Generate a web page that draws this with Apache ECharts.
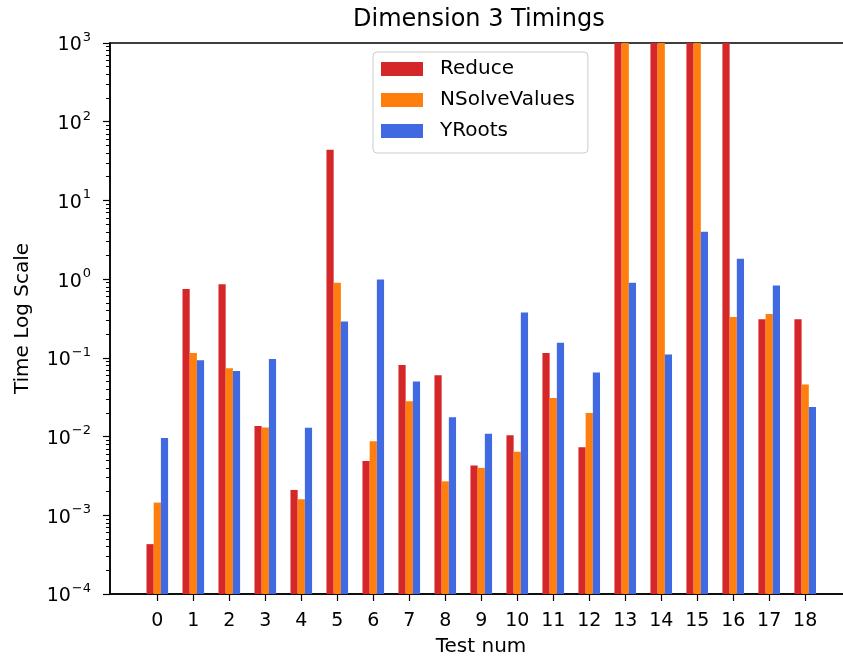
<!DOCTYPE html>
<html>
<head>
<meta charset="utf-8">
<script src="https://cdn.jsdelivr.net/npm/echarts@6/dist/echarts.min.js"></script>
<style>
  html, body { margin: 0; padding: 0; background: #fff; }
  #chart { width: 843px; height: 660px; }
</style>
</head>
<body>
<div id="chart"></div>
<script>
const categories = ['0','1','2','3','4','5','6','7','8','9','10','11','12','13','14','15','16','17','18'];
const reduceValues = [0.00043, 0.75, 0.86, 0.0136, 0.0021, 44, 0.0049, 0.081, 0.060, 0.0043, 0.0104, 0.115, 0.0073, 1000, 1000, 1000, 1000, 0.31, 0.31];
const nsolveValues = [0.00145, 0.115, 0.074, 0.013, 0.0016, 0.90, 0.0087, 0.028, 0.0027, 0.0040, 0.0064, 0.031, 0.020, 1000, 1000, 1000, 0.33, 0.36, 0.046];
const yrootsValues = [0.0096, 0.093, 0.068, 0.097, 0.0129, 0.29, 0.99, 0.050, 0.0176, 0.0109, 0.376, 0.156, 0.065, 0.90, 0.11, 4.0, 1.82, 0.83, 0.0238];
const seriesNames = ['Reduce', 'NSolveValues', 'YRoots'];
const yMajorTicks = [1e-4, 1e-3, 1e-2, 1e-1, 1e0, 1e1, 1e2, 1e3];
const yMinorTicks = [];
for (let e = -4; e < 3; e++) { for (let m = 2; m <= 9; m++) yMinorTicks.push(m * Math.pow(10, e)); }

const colors = ['#d62728', '#ff7f0e', '#4169e1'];
const FONT = 'DejaVu Sans';
const positions = categories.map((c, i) => i);

function toPairs(vals) { return vals.map((v, i) => [positions[i], v]); }

function supLabel(v) {
  const e = Math.round(Math.log10(v));
  const s = e < 0 ? '\u2212' + Math.abs(e) : String(e);
  return '{b|10}{s|' + s + '}';
}

const chart = echarts.init(document.getElementById('chart'), null, { renderer: 'canvas' });
const option = {
  animation: false,
  backgroundColor: '#ffffff',
  textStyle: { fontFamily: FONT, color: '#000' },
  title: {
    text: 'Dimension 3 Timings',
    left: 348, top: 3,
    textStyle: { fontFamily: FONT, fontSize: 24, fontWeight: 'normal', color: '#000' }
  },
  legend: {
    orient: 'vertical',
    left: 373, top: 52,
    padding: [7, 13, 12, 8],
    itemWidth: 42, itemHeight: 14, itemGap: 11,
    icon: 'rect',
    backgroundColor: 'rgba(255,255,255,0.8)',
    borderColor: '#cccccc', borderWidth: 1, borderRadius: 4,
    textStyle: { fontFamily: FONT, fontSize: 20, color: '#000', padding: [0, 0, 0, 12] },
    data: seriesNames
  },
  grid: {
    left: 110, top: 43, width: 742, bottom: 66,
    outerBoundsMode: 'none', containLabel: false,
    show: true, borderColor: '#000', borderWidth: 1.5, backgroundColor: 'transparent'
  },
  xAxis: {
    type: 'value',
    min: -1.314, max: 19.3,
    name: 'Test num', nameLocation: 'middle', nameGap: 43,
    nameTextStyle: { fontFamily: FONT, fontSize: 20, color: '#000' },
    axisLine: { show: true, onZero: false, lineStyle: { color: '#000', width: 1.5 } },
    axisTick: { show: true, length: 7, lineStyle: { color: '#000', width: 1.2 }, customValues: positions },
    axisLabel: {
      fontFamily: FONT, fontSize: 19, color: '#000', margin: 18,
      customValues: positions,
      formatter: v => categories[Math.round(v)]
    },
    splitLine: { show: false }
  },
  yAxis: [{
    type: 'log', logBase: 10,
    min: 1e-4, max: 1e3, splitNumber: 7,
    startValue: 1e-4,
    name: 'Time Log Scale', nameLocation: 'middle', nameGap: 77, nameRotate: 90,
    nameTextStyle: { fontFamily: FONT, fontSize: 20, color: '#000' },
    axisLine: { show: true, onZero: false, lineStyle: { color: '#000', width: 1.5 } },
    axisTick: { show: true, length: 7, lineStyle: { color: '#000', width: 1.2 }, customValues: yMajorTicks },
    axisLabel: {
      margin: 19, color: '#000', customValues: yMajorTicks,
      formatter: supLabel,
      rich: {
        b: { fontFamily: FONT, fontSize: 19, color: '#000', lineHeight: 24, verticalAlign: 'bottom' },
        s: { fontFamily: FONT, fontSize: 13, color: '#000', lineHeight: 24, verticalAlign: 'top', padding: [0, 0, 0, 1] }
      }
    },
    splitLine: { show: false }
  }, {
    type: 'log', logBase: 10,
    min: 1e-4, max: 1e3,
    position: 'left',
    axisLine: { show: false, onZero: false },
    axisTick: { show: true, length: 4, lineStyle: { color: '#000', width: 1 }, customValues: yMinorTicks },
    axisLabel: { show: false },
    splitLine: { show: false }
  }],
  series: [reduceValues, nsolveValues, yrootsValues].map((vals, k) => ({
    name: seriesNames[k],
    type: 'bar',
    data: toPairs(vals),
    barWidth: 7.2,
    barGap: '0%',
    itemStyle: { color: colors[k] },
    yAxisIndex: 0
  }))
};
chart.setOption(option);
</script>
</body>
</html>
